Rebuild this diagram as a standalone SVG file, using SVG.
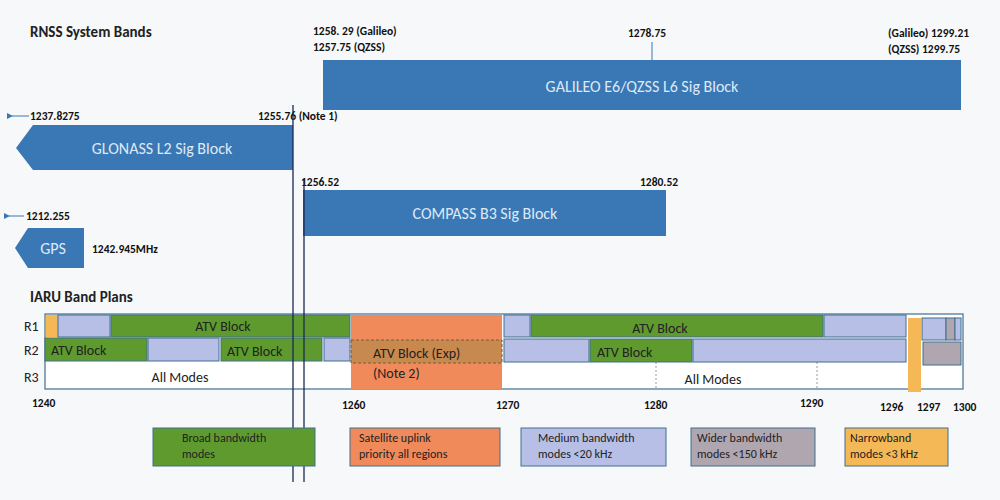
<svg xmlns="http://www.w3.org/2000/svg" width="1000" height="500" viewBox="0 0 1000 500">
<defs>
<marker id="ah" markerWidth="6" markerHeight="6" refX="1" refY="3" orient="auto"><path d="M6,0 L0,3 L6,6 Z" fill="#3a78b5"/></marker>
</defs>
<style>
text{font-family:Calibri,"Open Sans","Liberation Sans",Arial,sans-serif}
.lb{font-size:11.5px;font-weight:bold;fill:#111}
.h{font-size:15px;font-weight:bold;fill:#222}
.sig{fill:#3a78b5}
.st{font-size:16px;fill:#dfe9f5}
.g{fill:#5e9a2e;stroke:#3f6f8f;stroke-width:1}
.l{fill:#b8bfe6;stroke:#3f6f8f;stroke-width:1}
.o{fill:#f08a5a}
.y{fill:#f4b856}
.gr{fill:#b0a6b0;stroke:#3f6f8f;stroke-width:1}
.t{font-size:14px;fill:#222}
.lt{font-size:12px;fill:#222}
</style>
<rect width="1000" height="500" fill="#f7f8fa"/>
<text x="30" y="37" class="h">RNSS System Bands</text>
<text x="30" y="302" class="h">IARU Band Plans</text>
<g id="galileo"><rect x="323" y="60" width="638" height="50" class="sig"/><text x="642" y="92" class="st" text-anchor="middle">GALILEO E6/QZSS L6 Sig Block</text></g>
<text x="313" y="35" class="lb">1258. 29 (Galileo)</text>
<text x="313" y="51" class="lb">1257.75 (QZSS)</text>
<text x="628" y="37" class="lb">1278.75</text>
<line x1="652" y1="42" x2="652" y2="60" stroke="#3a78b5"/>
<text x="888" y="37" class="lb">(Galileo) 1299.21</text>
<text x="888" y="53" class="lb">(QZSS) 1299.75</text>
<g id="glonass"><polygon points="16,148 33,125 293,125 293,170 33,170" class="sig"/><text x="162" y="154" class="st" text-anchor="middle">GLONASS L2 Sig Block</text></g>
<text x="30" y="120" class="lb">1237.8275</text>
<text x="258" y="120" class="lb">1255.76 (Note 1)</text>
<g id="compass"><rect x="303" y="190" width="363" height="46" class="sig"/><text x="485" y="219" class="st" text-anchor="middle">COMPASS B3 Sig Block</text></g>
<text x="301" y="186" class="lb">1256.52</text>
<text x="640" y="186" class="lb">1280.52</text>
<g id="gps"><polygon points="15,248 28,228 84,228 84,268 28,268" class="sig"/><text x="53" y="254" class="st" text-anchor="middle">GPS</text></g>
<text x="26" y="220" class="lb">1212.255</text>
<text x="92" y="253" class="lb">1242.945MHz</text>
<g id="connectors">
<line x1="29" y1="116" x2="12" y2="116" stroke="#3a78b5" marker-end="url(#ah)"/>
<line x1="24" y1="216" x2="9" y2="216" stroke="#3a78b5" marker-end="url(#ah)"/>
</g>
<g id="bandplan">
<rect x="45" y="314" width="918" height="75" fill="#fff" stroke="#3f6f8f" stroke-width="1.2"/>
<line x1="656" y1="362" x2="656" y2="389" stroke="#999" stroke-dasharray="2,2"/>
<line x1="817" y1="362" x2="817" y2="389" stroke="#999" stroke-dasharray="2,2"/>
<rect x="46" y="315" width="12" height="22" class="y"/>
<rect x="58" y="315" width="52" height="22" class="l"/>
<rect x="111" y="315" width="239" height="22" class="g"/>
<rect x="351" y="315" width="151" height="74" class="o"/>
<rect x="504" y="315" width="26" height="22" class="l"/>
<rect x="531" y="315" width="292" height="22" class="g"/>
<rect x="824" y="315" width="82" height="22" class="l"/>
<rect x="908" y="318" width="13" height="74" class="y"/>
<rect x="922" y="318" width="24" height="22" class="l"/>
<rect x="946" y="318" width="9" height="22" class="gr"/>
<rect x="955" y="318" width="6" height="22" class="l"/>
<rect x="45" y="338" width="102" height="23" class="g"/>
<rect x="148" y="338" width="71" height="23" class="l"/>
<rect x="221" y="338" width="101" height="23" class="g"/>
<rect x="324" y="338" width="26" height="23" class="l"/>
<rect x="351" y="340" width="151" height="23" fill="#c8894e" stroke="#7a5a3a" stroke-dasharray="3,2"/>
<rect x="504" y="339" width="85" height="23" class="l"/>
<rect x="590" y="339" width="102" height="23" class="g"/>
<rect x="693" y="339" width="213" height="23" class="l"/>
<rect x="923" y="342" width="38" height="23" class="gr"/>
<text x="24" y="331" class="t">R1</text><text x="24" y="355" class="t">R2</text><text x="24" y="382" class="t">R3</text>
<text x="223" y="331" class="t" text-anchor="middle">ATV Block</text>
<text x="660" y="333" class="t" text-anchor="middle">ATV Block</text>
<text x="51" y="355" class="t">ATV Block</text>
<text x="227" y="356" class="t">ATV Block</text>
<text x="373" y="358" class="t">ATV Block (Exp)</text>
<text x="373" y="378" class="t">(Note 2)</text>
<text x="597" y="357" class="t">ATV Block</text>
<text x="180" y="382" class="t" text-anchor="middle">All Modes</text>
<text x="713" y="384" class="t" text-anchor="middle">All Modes</text>
<text x="32" y="407" class="lb">1240</text><text x="342" y="409" class="lb">1260</text>
<text x="496" y="409" class="lb">1270</text><text x="644" y="409" class="lb">1280</text>
<text x="800" y="407" class="lb">1290</text><text x="880" y="411" class="lb">1296</text>
<text x="917" y="411" class="lb">1297</text><text x="953" y="411" class="lb">1300</text>
</g>
<line x1="293" y1="105" x2="293" y2="482" stroke="#1a2a50" stroke-width="1.3"/>
<line x1="304" y1="180" x2="304" y2="482" stroke="#1a2a50" stroke-width="1.3"/>
<g id="legend">
<rect x="153" y="428" width="162" height="38" class="g"/><text x="182" y="442" class="lt">Broad bandwidth</text><text x="182" y="458" class="lt">modes</text>
<rect x="350" y="428" width="150" height="38" class="o" stroke="#3f6f8f"/><text x="359" y="442" class="lt">Satellite uplink</text><text x="359" y="458" class="lt">priority all regions</text>
<rect x="521" y="428" width="145" height="38" class="l"/><text x="538" y="442" class="lt">Medium bandwidth</text><text x="538" y="458" class="lt">modes &lt;20 kHz</text>
<rect x="691" y="428" width="124" height="38" class="gr"/><text x="697" y="442" class="lt">Wider bandwidth</text><text x="697" y="458" class="lt">modes &lt;150 kHz</text>
<rect x="845" y="428" width="103" height="38" class="y" stroke="#3f6f8f"/><text x="850" y="442" class="lt">Narrowband</text><text x="850" y="458" class="lt">modes &lt;3 kHz</text>
</g>
</svg>
